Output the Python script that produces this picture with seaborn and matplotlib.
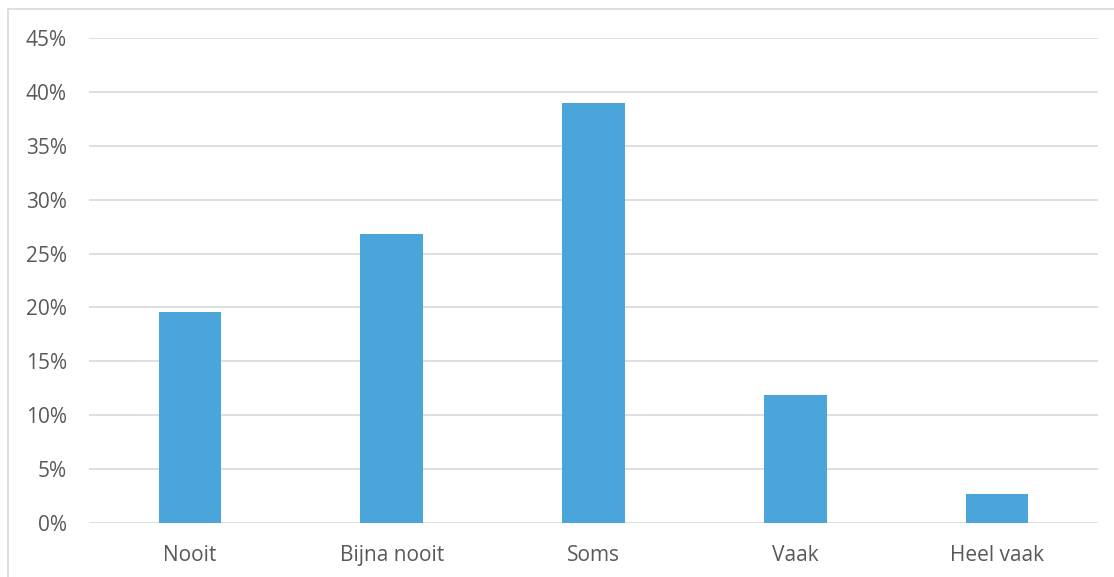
import matplotlib
matplotlib.use('Agg')
import pandas as pd
import seaborn as sns
import matplotlib.pyplot as plt
from matplotlib.patches import Rectangle
from matplotlib.ticker import PercentFormatter, MultipleLocator

# Answers and their share (%)
categories = ['Nooit', 'Bijna nooit', 'Soms', 'Vaak', 'Heel vaak']
shares = [19.6, 26.8, 39.0, 11.9, 2.7]

df = pd.DataFrame({'antwoord': categories, 'aandeel': shares})

sns.set_theme(style='white')
plt.rcParams['font.family'] = ['Open Sans', 'DejaVu Sans']

fig = plt.figure(figsize=(11.14, 5.77), dpi=100)
ax = fig.add_axes([0.0799, 0.0936, 0.9057, 0.8405])

sns.barplot(data=df, x='antwoord', y='aandeel', color='#4AA6DA',
            width=0.31, saturation=1, linewidth=0, ax=ax)

ax.set_ylim(0, 45)
ax.yaxis.set_major_locator(MultipleLocator(5))
ax.yaxis.set_major_formatter(PercentFormatter(decimals=0))
ax.grid(axis='y', color='#D9D9D9', linewidth=1.2)
ax.set_axisbelow(True)
for s in ax.spines.values():
    s.set_visible(False)
ax.tick_params(axis='both', length=0, labelsize=15, labelcolor='#595959')
ax.tick_params(axis='y', pad=16)
ax.tick_params(axis='x', pad=16)
ax.set_xlabel('')
ax.set_ylabel('')

# chart frame (cropped at right and bottom)
fig.patches.append(Rectangle((8 / 1114, -0.1), 1.2, 0.1 + (577 - 9) / 577,
                             transform=fig.transFigure, fill=False,
                             edgecolor='#D9D9D9', linewidth=1.2))

fig.savefig('out.png', dpi=100)
